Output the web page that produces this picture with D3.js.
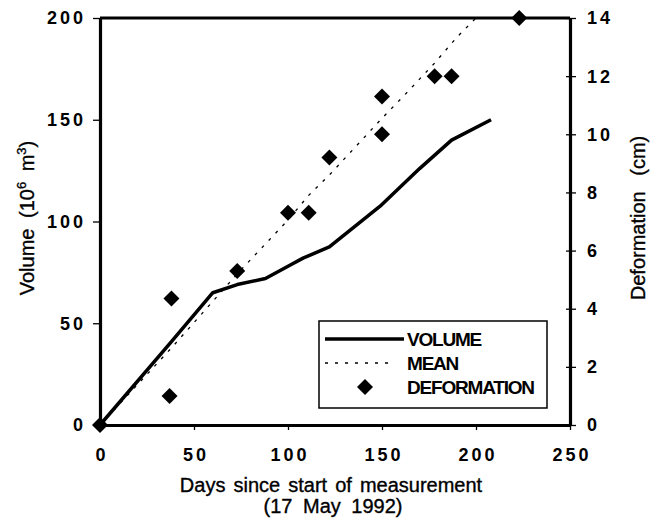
<!DOCTYPE html>
<html>
<head>
<meta charset="utf-8">
<script src="https://cdn.jsdelivr.net/npm/d3@7"></script>
<style>
    body { margin: 0; background: #fff; }
    svg { display: block; font-family: 'Liberation Sans', Arial, Helvetica, sans-serif; }
    .tick-lab { font-size: 18px; font-weight: bold; letter-spacing: 3px; fill: #000; }
    .title { font-size: 20px; fill: #000; stroke: #000; stroke-width: 0.35px; }
    .leg { font-size: 19px; font-weight: bold; letter-spacing: -1.2px; fill: #000; }
</style>
</head>
<body>
<div id="chart"></div>
<script>
// DATA

const volume_days = [0, 38, 60, 73, 88, 101, 108, 122, 149, 170, 187, 208];
const volume_values = [0, 41, 65, 69, 72, 78.5, 82, 87.5, 107.5, 126, 140, 150];

const mean_days = [0, 38, 73, 100, 111, 122, 150, 162, 178, 190, 200];
const mean_values = [0, 2.65, 5.2, 7.05, 7.9, 8.6, 10.55, 11.35, 12.45, 13.35, 14];

const deform_days = [0, 37, 38, 73, 100, 111, 122, 150, 150, 178, 187, 223];
const deform_values = [0, 1, 4.35, 5.3, 7.3, 7.3, 9.2, 10, 11.3, 12, 12, 14];

const x_ticks = [0, 50, 100, 150, 200, 250];
const y_ticks = [0, 50, 100, 150, 200];
const y2_ticks = [0, 2, 4, 6, 8, 10, 12, 14];

const legend_labels = ['VOLUME', 'MEAN', 'DEFORMATION'];

//////////////////////////////////////////////

const width = 655,
    height = 519;

const plot = {
    left: 100,
    right: 570,
    top: 18,
    bottom: 425
};

const svg = d3.select('#chart')
    .append('svg')
    .attr('width', width)
    .attr('height', height);

const x_scale = d3.scaleLinear().domain([0, 250]).range([plot.left, plot.right]);
const y_scale = d3.scaleLinear().domain([0, 200]).range([plot.bottom, plot.top]);
const y2_scale = d3.scaleLinear().domain([0, 14]).range([plot.bottom, plot.top]);

const diamond = d3.symbol().type(d3.symbolSquare).size(128);

// LINES

const volume_data = volume_days.map((d, i) => [d, volume_values[i]]);
const mean_data = mean_days.map((d, i) => [d, mean_values[i]]);
const deform_data = deform_days.map((d, i) => [d, deform_values[i]]);

svg.append('path')
    .datum(mean_data)
    .attr('fill', 'none')
    .attr('stroke', '#000')
    .attr('stroke-width', 1.3)
    .attr('stroke-dasharray', '3,7')
    .attr('d', d3.line().x(d => x_scale(d[0])).y(d => y2_scale(d[1])));

svg.append('path')
    .datum(volume_data)
    .attr('fill', 'none')
    .attr('stroke', '#000')
    .attr('stroke-width', 3.5)
    .attr('stroke-linejoin', 'round')
    .attr('d', d3.line().x(d => x_scale(d[0])).y(d => y_scale(d[1])));

// AXES

const x_axis = d3.axisBottom(x_scale).tickValues(x_ticks).tickSize(5).tickSizeOuter(0);
const y_axis = d3.axisLeft(y_scale).tickValues(y_ticks).tickSize(7).tickSizeOuter(0);
const y2_axis = d3.axisRight(y2_scale).tickValues(y2_ticks).tickSize(6).tickSizeOuter(0);

const gx = svg.append('g')
    .attr('transform', `translate(0, ${plot.bottom})`)
    .call(x_axis);
gx.selectAll('text')
    .attr('class', 'tick-lab')
    .attr('y', 36).attr('dy', 0).attr('dx', 1.5);

const gy = svg.append('g')
    .attr('transform', `translate(${plot.left}, 0)`)
    .call(y_axis);
gy.selectAll('text')
    .attr('class', 'tick-lab')
    .attr('x', -14).attr('dy', '0.33em');

const gy2 = svg.append('g')
    .attr('transform', `translate(${plot.right}, 0)`)
    .call(y2_axis);
gy2.selectAll('line').attr('x1', -4);
gy2.selectAll('text')
    .attr('class', 'tick-lab')
    .attr('x', 17).attr('dy', '0.33em');

[gx, gy, gy2].forEach(g => {
    g.select('.domain').attr('stroke-width', 3.2);
    g.selectAll('.tick line').attr('stroke-width', 1.3);
});

// top border
svg.append('line')
    .attr('x1', plot.left).attr('x2', plot.right)
    .attr('y1', plot.top).attr('y2', plot.top)
    .attr('stroke', '#000')
    .attr('stroke-width', 3.2);

// DIAMONDS

svg.selectAll('.dia')
    .data(deform_data)
    .enter()
    .append('path')
    .attr('class', 'dia')
    .attr('d', diamond)
    .attr('transform', d => `translate(${x_scale(d[0])}, ${y2_scale(d[1])}) rotate(45)`)
    .attr('fill', '#000');

// TITLES

svg.append('text')
    .attr('class', 'title')
    .attr('x', 331).attr('y', 492)
    .attr('text-anchor', 'middle')
    .style('word-spacing', '2.5px')
    .text('Days since start of measurement');

svg.append('text')
    .attr('class', 'title')
    .attr('x', 333).attr('y', 513)
    .attr('text-anchor', 'middle')
    .style('word-spacing', '5px')
    .text('(17 May 1992)');

const ytitle = svg.append('text')
    .attr('class', 'title')
    .attr('transform', 'translate(34, 218) rotate(-90)')
    .attr('text-anchor', 'middle')
    .style('word-spacing', '5px');
ytitle.append('tspan').text('Volume (10');
ytitle.append('tspan').attr('dy', -8).style('font-size', '13px').text('6');
ytitle.append('tspan').attr('dy', 8).text(' m');
ytitle.append('tspan').attr('dy', -8).style('font-size', '13px').text('3');
ytitle.append('tspan').attr('dy', 8).text(')');

svg.append('text')
    .attr('class', 'title')
    .attr('transform', 'translate(645, 218) rotate(-90)')
    .attr('text-anchor', 'middle')
    .style('word-spacing', '10px')
    .text('Deformation (cm)');

// LEGEND

const legend = svg.append('g').attr('id', 'legend');

legend.append('rect')
    .attr('x', 319).attr('y', 321)
    .attr('width', 228).attr('height', 87)
    .attr('fill', '#fff')
    .attr('stroke', '#000')
    .attr('stroke-width', 1.5);

const leg_y = [339, 363, 387];

legend.append('line')
    .attr('x1', 325).attr('x2', 404)
    .attr('y1', leg_y[0]).attr('y2', leg_y[0])
    .attr('stroke', '#000').attr('stroke-width', 3.5);

legend.append('line')
    .attr('x1', 325).attr('x2', 394)
    .attr('y1', leg_y[1]).attr('y2', leg_y[1])
    .attr('stroke', '#000').attr('stroke-width', 1.3)
    .attr('stroke-dasharray', '3,7');

legend.append('path')
    .attr('d', diamond)
    .attr('transform', `translate(365, ${leg_y[2]}) rotate(45)`)
    .attr('fill', '#000');

legend.selectAll('.leg')
    .data(legend_labels)
    .enter()
    .append('text')
    .attr('class', 'leg')
    .attr('x', 407)
    .attr('y', (d, i) => leg_y[i])
    .attr('dy', '0.36em')
    .text(d => d);
</script>
</body>
</html>
